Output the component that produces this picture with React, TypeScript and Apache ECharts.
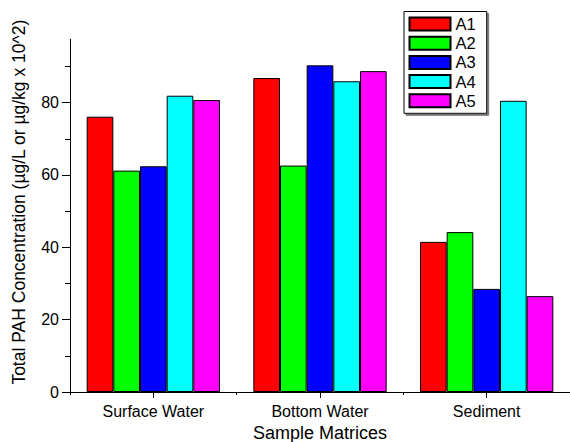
import React, { useEffect, useRef } from "react";
import * as echarts from "echarts";

const categories = ["Surface Water", "Bottom Water", "Sediment"];
const seriesNames = ["A1", "A2", "A3", "A4", "A5"];
const a1 = [76.1, 86.8, 41.5];
const a2 = [61.2, 62.6, 44.2];
const a3 = [62.4, 90.3, 28.5];
const a4 = [81.9, 85.9, 80.5];
const a5 = [80.7, 88.7, 26.5];
const seriesValues = [a1, a2, a3, a4, a5];
const seriesColors = ["#ff0000", "#00ff00", "#0000ff", "#00ffff", "#ff00ff"];
const yMajorTicks = [0, 20, 40, 60, 80];
const yMinorTicks = [10, 30, 50, 70, 90];
const yMax = 97.5;

const FONT = "'Liberation Sans', Arial, sans-serif";

export default function App() {
  const ref = useRef<HTMLDivElement>(null);
  useEffect(() => {
    if (!ref.current) return;
    const chart = echarts.init(ref.current, null, { renderer: "svg" });
    chart.setOption({
      animation: false,
      backgroundColor: "#ffffff",
      textStyle: { fontFamily: FONT, color: "#000" },
      grid: { left: 70, right: 0, top: 39.3, bottom: 50, containLabel: false, outerBoundsMode: "none" },
      legend: {
        data: seriesNames,
        orient: "vertical",
        left: 404,
        top: 11.5,
        itemWidth: 41,
        itemHeight: 13,
        itemGap: 2.2,
        padding: [4, 11, 4, 4.5],
        borderColor: "#000",
        borderWidth: 1,
        backgroundColor: "#fff",
        shadowColor: "#777",
        shadowOffsetX: 2,
        shadowOffsetY: 2,
        shadowBlur: 0,
        icon: "rect",
        textStyle: { fontSize: 16.5, color: "#000", fontFamily: FONT },
      },
      xAxis: [
        {
          type: "category",
          data: categories,
          position: "bottom",
          boundaryGap: true,
          axisLine: { show: true, lineStyle: { color: "#000", width: 1 } },
          axisTick: { show: true, alignWithLabel: true, length: 6, lineStyle: { color: "#000" } },
          axisLabel: { fontSize: 16, color: "#000", margin: 11, fontFamily: FONT },
          splitLine: { show: false },
          name: "Sample Matrices",
          nameLocation: "middle",
          nameGap: 31,
          nameTextStyle: { fontSize: 18, color: "#000", fontFamily: FONT },
        },
        {
          type: "category",
          data: categories,
          position: "bottom",
          boundaryGap: true,
          axisLine: { show: false },
          axisTick: { show: true, length: 3, lineStyle: { color: "#000" } },
          axisLabel: { show: false },
          splitLine: { show: false },
        },
      ],
      yAxis: [
        {
          type: "value",
          min: 0,
          max: yMax,
          position: "left",
          axisLine: { show: true, lineStyle: { color: "#000", width: 1 } },
          axisTick: { show: true, length: 8, customValues: yMajorTicks, lineStyle: { color: "#000" } },
          axisLabel: { fontSize: 16, color: "#000", margin: 11, customValues: yMajorTicks, fontFamily: FONT },
          splitLine: { show: false },
          name: "Total PAH Concentration (µg/L or µg/kg x 10^2)",
          nameLocation: "middle",
          nameGap: 42,
          nameTextStyle: { fontSize: 17.5, color: "#000", fontFamily: FONT, padding: [0, 0, 0, 27] },
        },
        {
          type: "value",
          min: 0,
          max: yMax,
          position: "left",
          axisLine: { show: false },
          axisTick: { show: true, length: 5, customValues: yMinorTicks, lineStyle: { color: "#000" } },
          axisLabel: { show: false },
          splitLine: { show: false },
        },
      ],
      series: seriesNames.map((name, i) => ({
        name,
        type: "bar",
        xAxisIndex: 0,
        yAxisIndex: 0,
        data: seriesValues[i],
        barGap: "0%",
        barCategoryGap: "20%",
        itemStyle: { color: seriesColors[i], borderColor: "#000", borderWidth: 1 },
      })),
    });
    return () => chart.dispose();
  }, []);
  return (
    <div
      ref={ref}
      style={{ position: "absolute", left: 0, top: 0, width: 570, height: 442 }}
    />
  );
}
